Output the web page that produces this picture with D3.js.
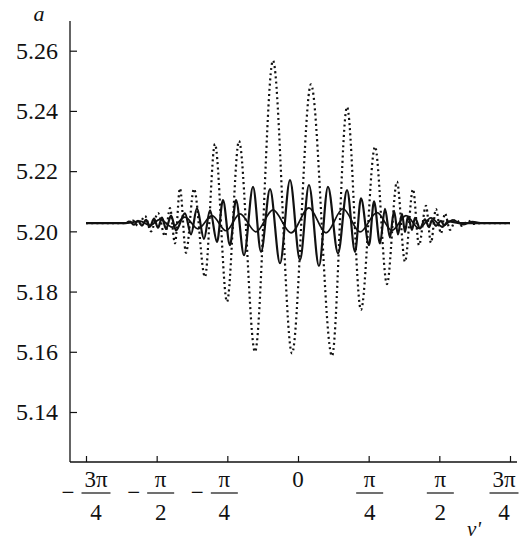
<!DOCTYPE html>
<html>
<head>
<meta charset="utf-8">
<script src="https://cdn.jsdelivr.net/npm/d3@7"></script>
<style>
  html, body { margin: 0; padding: 0; background: #fff; }
  svg { display: block; }
  svg text { font-family: "Liberation Serif", "Times New Roman", Times, "DejaVu Serif", serif !important; fill: #111; }
</style>
</head>
<body>
<svg id="chart" width="519" height="541"></svg>
<script>
// ---- data (v' in radians, a values) ----
const yTicks = [5.14, 5.16, 5.18, 5.20, 5.22, 5.24, 5.26];
const xTicks = [-3*Math.PI/4, -Math.PI/2, -Math.PI/4, 0, Math.PI/4, Math.PI/2, 3*Math.PI/4];
const xTickLabels = ["-3π/4", "-π/2", "-π/4", "0", "π/4", "π/2", "3π/4"];

// dotted curve: extrema
const dottedV = [-2.356,-1.934,-1.834,-1.778,-1.700,-1.634,-1.556,-1.478,-1.423,-1.367,-1.312,-1.245,-1.156,-1.034,-0.923,-0.789,-0.656,-0.478,-0.278,-0.067,0.144,0.378,0.545,0.700,0.856,0.989,1.100,1.189,1.278,1.345,1.422,1.478,1.533,1.589,1.633,1.689,1.756,1.823,1.889,1.956,2.023,2.112,2.356];
const dottedA = [5.2027,5.2027,5.2036,5.2018,5.2051,5.2000,5.2061,5.1984,5.2077,5.1960,5.2143,5.1929,5.2141,5.1849,5.2290,5.1766,5.2300,5.1600,5.2567,5.1595,5.2488,5.1586,5.2413,5.1739,5.2281,5.1825,5.2165,5.1899,5.2140,5.1954,5.2085,5.1962,5.2074,5.1993,5.2060,5.2005,5.2040,5.2018,5.2035,5.2025,5.2027,5.2027,5.2027];

// bold solid curve
const boldV = [-2.356,-1.923,-1.867,-1.823,-1.778,-1.734,-1.689,-1.645,-1.600,-1.556,-1.511,-1.467,-1.411,-1.356,-1.256,-1.189,-1.123,-1.045,-0.978,-0.900,-0.834,-0.756,-0.689,-0.600,-0.500,-0.411,-0.311,-0.200,-0.089,0.022,0.122,0.233,0.333,0.445,0.545,0.634,0.700,0.789,0.845,0.911,0.967,1.022,1.067,1.111,1.156,1.189,1.222,1.267,1.300,1.356,1.411,1.456,1.489,1.533,1.589,1.623,1.667,1.823,2.356];
const boldA = [5.2027,5.2027,5.2032,5.2022,5.2035,5.2019,5.2038,5.2016,5.2042,5.2012,5.2046,5.2008,5.2052,5.2003,5.2060,5.1990,5.2076,5.1975,5.2070,5.1965,5.2104,5.1954,5.2104,5.1921,5.2148,5.1932,5.2140,5.1894,5.2170,5.1905,5.2154,5.1885,5.2148,5.1927,5.2137,5.1932,5.2110,5.1954,5.2100,5.1960,5.2075,5.1980,5.2068,5.1990,5.2058,5.1998,5.2050,5.2005,5.2045,5.2010,5.2040,5.2014,5.2037,5.2018,5.2035,5.2020,5.2033,5.2027,5.2027];

// thin solid curve
const thinV = [-2.356,-1.900,-1.756,-1.645,-1.534,-1.400,-1.256,-1.111,-0.956,-0.800,-0.645,-0.467,-0.278,-0.078,0.122,0.311,0.500,0.689,0.878,1.045,1.200,1.345,1.478,1.600,1.723,1.834,1.934,2.078,2.356];
const thinA = [5.2027,5.2027,5.2034,5.2020,5.2040,5.2014,5.2047,5.2008,5.2052,5.2002,5.2058,5.1998,5.2071,5.1995,5.2078,5.1995,5.2075,5.1998,5.2062,5.2003,5.2052,5.2010,5.2045,5.2016,5.2038,5.2022,5.2032,5.2027,5.2027];

// ---- layout ----
const FONT = "'Liberation Serif', 'Times New Roman', Times, serif";
const svg = d3.select("#chart");
const X0 = 70, YB = 462, YT = 21, XR = 517;
const x = d3.scaleLinear().domain([-3*Math.PI/4, 3*Math.PI/4]).range([86, 510]);
const y = d3.scaleLinear().domain([5.14, 5.26]).range([412, 50.7]);

// axes lines
svg.append("line").attr("x1", X0).attr("x2", X0).attr("y1", YT).attr("y2", YB)
  .attr("stroke", "#111").attr("stroke-width", 1.3);
svg.append("line").attr("x1", X0).attr("x2", XR).attr("y1", YB).attr("y2", YB)
  .attr("stroke", "#111").attr("stroke-width", 1.3);

// y axis
const yAxis = d3.axisLeft(y).tickValues(yTicks).tickSizeInner(-7).tickSizeOuter(0)
  .tickPadding(12).tickFormat(d3.format(".2f"));
const gy = svg.append("g").attr("transform", `translate(${X0},0)`).call(yAxis)
  .attr("font-family", FONT);
gy.select(".domain").remove();
gy.selectAll(".tick line").attr("stroke", "#111").attr("stroke-width", 1.2);
gy.selectAll(".tick text").attr("font-size", 24).style("font-family", FONT).attr("fill", "#111");

// x axis ticks
const xAxis = d3.axisBottom(x).tickValues(xTicks).tickSizeInner(-6).tickSizeOuter(0).tickFormat("");
const gx = svg.append("g").attr("transform", `translate(0,${YB})`).call(xAxis);
gx.select(".domain").remove();
gx.selectAll(".tick line").attr("stroke", "#111").attr("stroke-width", 1.2);

// fraction labels
const labelNudge = [10, 4, -3, 0, 1, 1, -6];
const fs = 23;
xTicks.forEach((t, i) => {
  const lab = xTickLabels[i];
  const neg = lab.startsWith("-");
  const body = neg ? lab.slice(1) : lab;
  const cx = x(t) + labelNudge[i];
  const g = svg.append("g").style("font-family", FONT);
  if (body.indexOf("/") < 0) {
    g.append("text").attr("x", cx).attr("y", 487).attr("text-anchor", "middle")
      .attr("font-size", fs).text(body);
    return;
  }
  const [num, den] = body.split("/");
  g.append("text").attr("x", cx).attr("y", 487).attr("text-anchor", "middle")
    .attr("font-size", fs).text(num);
  g.append("text").attr("x", cx).attr("y", 520).attr("text-anchor", "middle")
    .attr("font-size", fs).text(den);
  const w = num.length > 1 ? 29 : 27;
  g.append("line").attr("x1", cx - w/2).attr("x2", cx + w/2).attr("y1", 493).attr("y2", 493)
    .attr("stroke", "#111").attr("stroke-width", 1.2);
  if (neg) {
    g.append("text").attr("x", cx - w/2 - 7).attr("y", 500).attr("text-anchor", "end")
      .attr("font-size", fs).text("−");
  }
});

// axis titles
svg.append("text").attr("x", 39).attr("y", 21).attr("text-anchor", "middle")
  .attr("font-size", 22).attr("font-style", "italic").style("font-family", FONT).text("a");
svg.append("text").attr("x", 474).attr("y", 536).attr("text-anchor", "middle")
  .attr("font-size", 21).attr("font-style", "italic").style("font-family", FONT).text("v'");

// curves
const line = d3.line().x(d => x(d[0])).y(d => y(d[1])).curve(d3.curveMonotoneX);
const toPts = (vs, as) => vs.map((v, i) => [v, as[i]]);

svg.append("path").datum(toPts(dottedV, dottedA)).attr("d", line)
  .attr("fill", "none").attr("stroke", "#111").attr("stroke-width", 2.2)
  .attr("stroke-dasharray", "2 3.2");
svg.append("path").datum(toPts(thinV, thinA)).attr("d", line)
  .attr("fill", "none").attr("stroke", "#111").attr("stroke-width", 1.7);
svg.append("path").datum(toPts(boldV, boldA)).attr("d", line)
  .attr("fill", "none").attr("stroke", "#111").attr("stroke-width", 2.2);
</script>
</body>
</html>
